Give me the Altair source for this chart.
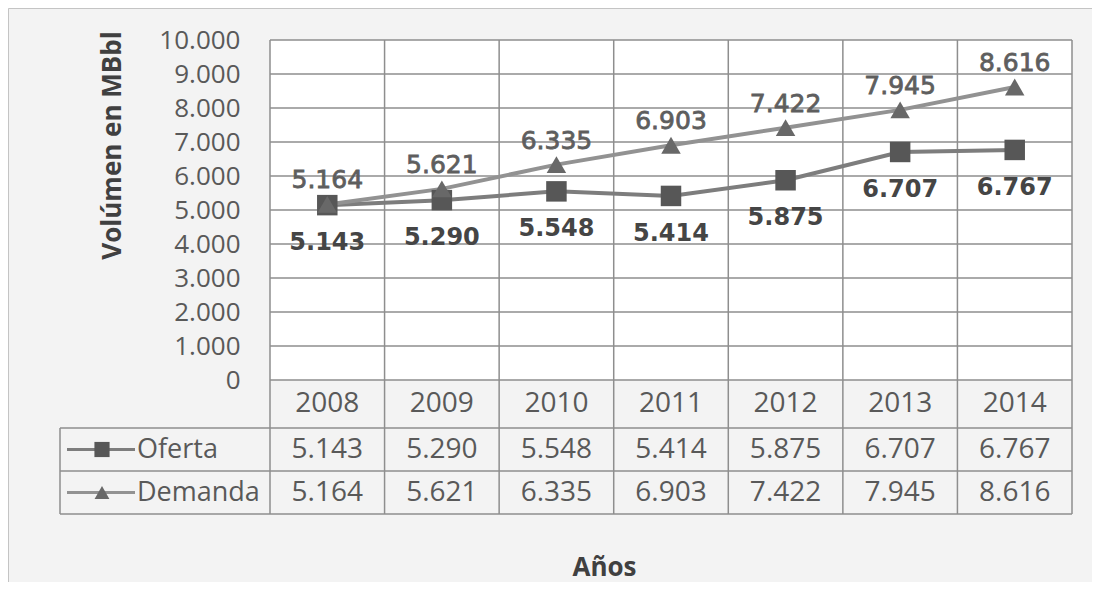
import altair as alt
import pandas as pd

# ---- data ----
YEARS = ["2008", "2009", "2010", "2011", "2012", "2013", "2014"]
OFERTA = [5143, 5290, 5548, 5414, 5875, 6707, 6767]
DEMANDA = [5164, 5621, 6335, 6903, 7422, 7945, 8616]
SERIES = ["Oferta", "Demanda"]
Y_TICKS = [0, 1000, 2000, 3000, 4000, 5000, 6000, 7000, 8000, 9000, 10000]
Y_TITLE = "Volúmen en MBbl"
X_TITLE = "Años"

# ---- layout (pixels) ----
PLOT_W = 802
VALUE_H = 340
HEADER_H = 48
ROW_H = 43
TABLE_H = HEADER_H + 2 * ROW_H
LEGEND_W = 210
N = len(YEARS)
Y_MAX = Y_TICKS[-1]
Y_MIN = -Y_MAX * TABLE_H / VALUE_H

GRID = "#8e8e8e"
TXT = "#595959"
FONT = "Open Sans"
LABEL_FONT = "DejaVu Sans"


def es(v):
    return f"{v:,}".replace(",", ".")


df = pd.DataFrame({
    "year": YEARS * 2,
    "col": [i + 0.5 for i in range(N)] * 2,
    "serie": ["Oferta"] * N + ["Demanda"] * N,
    "value": OFERTA + DEMANDA,
})
df["label"] = df["value"].map(es)
one = pd.DataFrame({"k": [0]})

X_SCALE = alt.Scale(domain=[0, N], nice=False, zero=False)
Y_SCALE = alt.Scale(domain=[Y_MIN, Y_MAX], nice=False, zero=False)
X_AXIS = alt.Axis(values=list(range(N + 1)), grid=False, labels=False, ticks=False,
                  domain=False, title=X_TITLE, titleFont=FONT, titleFontSize=26,
                  titleFontWeight="bold", titleColor="#404040", titleX=334, titleY=53,
                  titleAlign="center", titleBaseline="middle")
Y_AXIS = alt.Axis(values=Y_TICKS, grid=False, ticks=False, domain=False,
                  labelExpr="replace(format(datum.value, ','), ',', '.')",
                  labelFont=FONT, labelFontSize=26, labelColor=TXT, labelPadding=30,
                  labelOverlap=False, title=Y_TITLE, titleFont=FONT, titleFontSize=26,
                  titleFontWeight="bold", titleColor="#404040", titleAngle=270,
                  titleX=-158, titleY=105, titleAlign="center", titleBaseline="middle")


def X(f):
    return alt.X(f, scale=X_SCALE, axis=X_AXIS)


def Y(f):
    return alt.Y(f, scale=Y_SCALE, axis=Y_AXIS)


layers = []

# outer frame
layers.append(alt.Chart(one).mark_rect(fill="transparent", stroke="#c4c4c4", strokeWidth=1).encode(
    x=alt.value(-261.5), x2=alt.value(PLOT_W + 60),
    y=alt.value(-31.5), y2=alt.value(VALUE_H + TABLE_H + 120)))

# white plotting region
bg = pd.DataFrame({"x0": [0], "x1": [N], "y0": [0], "y1": [Y_MAX]})
layers.append(alt.Chart(bg).mark_rect(color="white").encode(
    x=X("x0:Q"), x2="x1:Q", y=Y("y0:Q"), y2="y1:Q"))

# horizontal grid
layers.append(alt.Chart(pd.DataFrame({"t": Y_TICKS})).mark_rule(color=GRID, strokeWidth=1.5).encode(
    y=Y("t:Q"), x=alt.value(0), x2=alt.value(PLOT_W)))

# vertical grid / column borders
layers.append(alt.Chart(pd.DataFrame({"b": list(range(N + 1))})).mark_rule(color=GRID, strokeWidth=1.5).encode(
    x=X("b:Q"), y=alt.value(0), y2=alt.value(VALUE_H + TABLE_H)))

# table horizontal lines
for yy in [VALUE_H + HEADER_H, VALUE_H + HEADER_H + ROW_H, VALUE_H + TABLE_H]:
    layers.append(alt.Chart(one).mark_rule(color=GRID, strokeWidth=1.5).encode(
        x=alt.value(-LEGEND_W), x2=alt.value(PLOT_W), y=alt.value(yy)))
layers.append(alt.Chart(one).mark_rule(color=GRID, strokeWidth=1.5).encode(
    x=alt.value(-LEGEND_W), y=alt.value(VALUE_H + HEADER_H), y2=alt.value(VALUE_H + TABLE_H)))

# year header
layers.append(alt.Chart(df).transform_filter(alt.datum.serie == "Oferta").mark_text(
    font=FONT, fontSize=28, color=TXT).encode(
    x=X("col:Q"), y=alt.value(VALUE_H + HEADER_H / 2), text="year:N"))

STYLE = {
    "Oferta": dict(line="#7d7d7d", marker="#575757", shape="square", size=420, lsize=230,
                   lcolor="#454545", weight="bold", fsize=24, dy=38, sw=0),
    "Demanda": dict(line="#929292", marker="#686868", shape="triangle-up", size=380, lsize=220,
                    lcolor="#5e5e5e", weight="normal", fsize=25, dy=-24, sw=0.8),
}

line_layers, mark_layers, text_layers = [], [], []
for r, s in enumerate(SERIES):
    st = STYLE[s]
    sub = alt.Chart(df).transform_filter(alt.datum.serie == s)
    row_c = VALUE_H + HEADER_H + ROW_H * r + ROW_H / 2
    line_layers.append(sub.mark_line(color=st["line"], strokeWidth=4).encode(
        x=X("col:Q"), y=Y("value:Q")))
    mark_layers.append(sub.mark_point(shape=st["shape"], filled=True, size=st["size"],
                                      color=st["marker"], opacity=1).encode(
        x=X("col:Q"), y=Y("value:Q")))
    text_layers.append(sub.mark_text(dy=st["dy"], font=LABEL_FONT, fontSize=st["fsize"],
                                     fontWeight=st["weight"], color=st["lcolor"],
                                     stroke=st["lcolor"], strokeWidth=st["sw"]).encode(
        x=X("col:Q"), y=Y("value:Q"), text="label:N"))
    # table values
    text_layers.append(sub.mark_text(font=FONT, fontSize=28, color=TXT).encode(
        x=X("col:Q"), y=alt.value(row_c), text="label:N"))
    # legend key
    text_layers.append(alt.Chart(one).mark_rule(color=st["line"], strokeWidth=3).encode(
        x=alt.value(-203), x2=alt.value(-135), y=alt.value(row_c)))
    text_layers.append(alt.Chart(one).mark_point(shape=st["shape"], filled=True, size=st["lsize"],
                                                 color=st["marker"], opacity=1).encode(
        x=alt.value(-168), y=alt.value(row_c)))
    text_layers.append(alt.Chart(one).mark_text(align="left", font=FONT, fontSize=27, color=TXT).encode(
        x=alt.value(-133), y=alt.value(row_c), text=alt.value(s)))

chart = alt.layer(*(layers + line_layers + mark_layers + text_layers)).properties(
    width=PLOT_W,
    height=VALUE_H + TABLE_H,
    background="#f3f3f3",
    padding={"left": 262, "top": 32, "right": 20, "bottom": 68},
    autosize=alt.AutoSizeParams(type="none"),
).configure_view(stroke="transparent")

chart.save("out.html", embed_options={"renderer": "svg", "actions": False})
